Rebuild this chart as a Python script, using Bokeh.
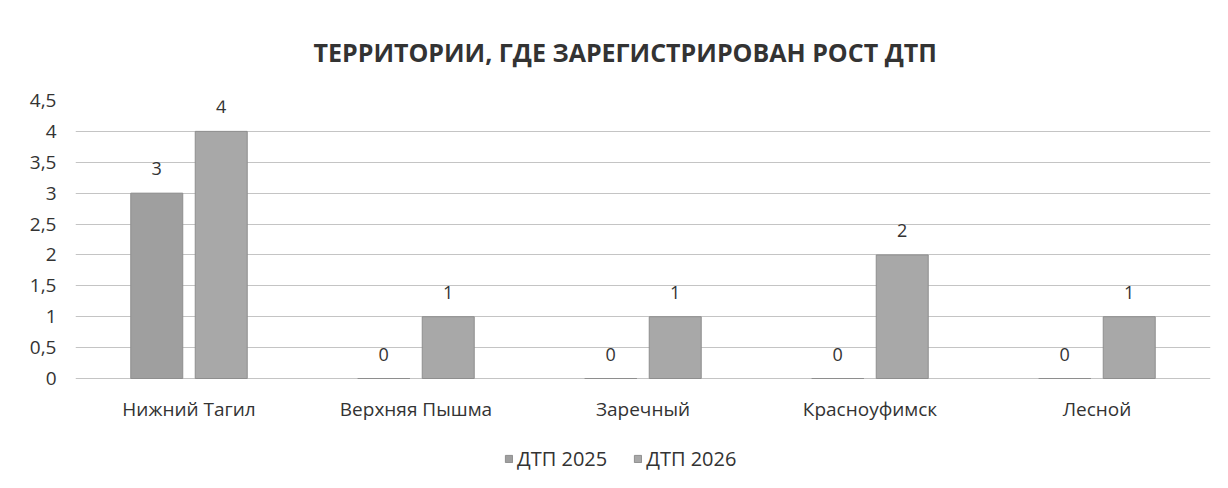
from bokeh.plotting import figure
from bokeh.models import (ColumnDataSource, FactorRange, Range1d, FixedTicker,
                          LabelSet, Legend, LegendItem)
from bokeh.core.properties import value
from bokeh.transform import dodge
from bokeh.embed import file_html
from bokeh.resources import INLINE

categories = ["Нижний Тагил", "Верхняя Пышма", "Заречный", "Красноуфимск", "Лесной"]
dtp_2025 = [3, 0, 0, 0, 0]
dtp_2026 = [4, 1, 1, 2, 1]
series_names = ["ДТП 2025", "ДТП 2026"]
y_ticks = [0, 0.5, 1, 1.5, 2, 2.5, 3, 3.5, 4, 4.5]
y_tick_labels = ["0", "0,5", "1", "1,5", "2", "2,5", "3", "3,5", "4", "4,5"]
title_text = "ТЕРРИТОРИИ, ГДЕ ЗАРЕГИСТРИРОВАН РОСТ ДТП"

FONT = "Open Sans"
TXT = "#333333"
colors = ["#9f9f9f", "#a8a8a8"]

# the frame continues below the value axis so that the category names and
# the legend are drawn inside it; the y range is stretched accordingly
FRAME_H = 380
PX_PER_UNIT = 278 / 4.5
y_top = 4.5
y_bottom = y_top - FRAME_H / PX_PER_UNIT

src = ColumnDataSource(dict(
    cat=categories,
    v25=dtp_2025, v26=dtp_2026,
    t25=[str(v) for v in dtp_2025], t26=[str(v) for v in dtp_2026],
    base=[0] * len(categories),
))

p = figure(frame_width=1135, frame_height=FRAME_H, output_backend="svg", toolbar_location=None,
           x_range=FactorRange(*categories, range_padding=0), y_range=Range1d(y_bottom, y_top),
           min_border_left=75, min_border_right=2, min_border_top=100, min_border_bottom=0)
p.outline_line_color = None
p.background_fill_color = "white"
p.border_fill_color = "white"

p.title.text = title_text
p.title.align = "left"
p.title.offset = 238
p.title.text_font = FONT
p.title.text_font_size = "25px"
p.title.text_font_style = "bold"
p.title.text_color = "#333333"
p.title.standoff = 64

off = 0.142
w = 0.229
r25 = p.vbar(x=dodge("cat", -off, range=p.x_range), top="v25", bottom="base", width=w, source=src,
             fill_color=colors[0], line_color="#8e8e8e", line_width=1)
r26 = p.vbar(x=dodge("cat", off, range=p.x_range), top="v26", bottom="base", width=w, source=src,
             fill_color=colors[1], line_color="#8e8e8e", line_width=1)

for col, tcol, dx in (("v25", "t25", -off), ("v26", "t26", off)):
    p.add_layout(LabelSet(x=dodge("cat", dx, range=p.x_range), y=col, text=tcol, source=src,
                          y_offset=18, text_align="center", text_baseline="bottom",
                          text_font=value(FONT), text_font_size="18px", text_color=TXT))

# category names under the value axis
p.add_layout(LabelSet(x="cat", y="base", text="cat", source=src,
                      y_offset=-30, text_align="center", text_baseline="middle",
                      text_font=value(FONT), text_font_size="19px", text_color=TXT))

p.xaxis.visible = False
p.xgrid.grid_line_color = None
p.ygrid.grid_line_color = "#c4c4c4"
p.ygrid.grid_line_width = 1
p.ygrid.ticker = FixedTicker(ticks=y_ticks)

p.yaxis.ticker = FixedTicker(ticks=y_ticks)
p.yaxis.major_label_overrides = {t: l for t, l in zip(y_ticks, y_tick_labels)}
p.yaxis.axis_line_color = None
p.yaxis.major_tick_line_color = None
p.yaxis.minor_tick_line_color = None
p.yaxis.major_label_text_font = FONT
p.yaxis.major_label_text_color = TXT
p.yaxis.major_label_text_font_size = "19px"
p.yaxis.major_label_standoff = 13

legend = Legend(items=[LegendItem(label=series_names[0], renderers=[r25]),
                       LegendItem(label=series_names[1], renderers=[r26])],
                orientation="horizontal", location=(429, 8),
                label_text_font=FONT, label_text_font_size="20px", label_text_color=TXT,
                glyph_width=9, glyph_height=9, label_standoff=4, spacing=26,
                border_line_color=None, background_fill_alpha=0, padding=4, margin=0)
p.add_layout(legend)

open("out.html", "w").write(file_html(p, INLINE))
